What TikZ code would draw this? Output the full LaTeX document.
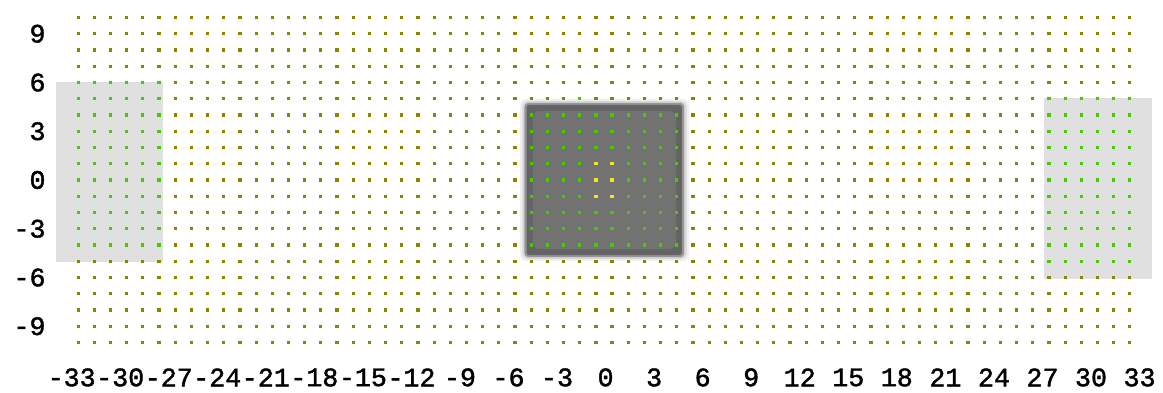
\documentclass[tikz,border=0pt]{standalone}
\usepackage{fontspec}
\newfontfamily\axisfont{Liberation Mono}[FakeBold=1.5]
\definecolor{dotolive}{RGB}{138,132,0}
\definecolor{dotgreen}{RGB}{64,206,0}
\definecolor{dotyellow}{RGB}{255,226,0}
\definecolor{lightpanel}{RGB}{224,224,224}
\definecolor{darkring}{RGB}{100,100,100}
\definecolor{darkcore}{RGB}{114,114,114}
\definecolor{halo}{RGB}{150,150,150}
\definecolor{halo2}{RGB}{215,215,215}
\definecolor{halo3}{RGB}{240,240,240}
\tikzset{
  axislabel/.style={font=\axisfont\fontsize{20pt}{22pt}\selectfont, inner sep=0pt},
  dot/.style={fill=#1},
}
\newcommand{\plotdot}[3]{\fill[#1] (#2,#3) +(-1.2pt,-1.2pt) rectangle +(1.2pt,1.2pt);}
\begin{document}
\begin{tikzpicture}[x=12.135pt,y=12.1875pt]
\useasboundingbox (-37.33,-13.108) rectangle (34.55,11.077);
% light panels
\fill[lightpanel] (-33.87,-5.05) rectangle (-27.26,6.03);
\fill[lightpanel] (27.2,-6.1) rectangle (33.9,5.05);
% central dark panel with soft border
\fill[halo3,rounded corners=5pt] (-5.2,-5.0) rectangle (5.25,5.0);
\fill[halo2,rounded corners=4pt] (-5.05,-4.87) rectangle (5.1,4.87);
\fill[halo,rounded corners=3pt] (-4.92,-4.75) rectangle (4.96,4.75);
\fill[darkring,rounded corners=2pt] (-4.78,-4.62) rectangle (4.82,4.62);
\fill[darkcore,rounded corners=5pt] (-4.4,-4.25) rectangle (4.45,4.25);
% olive dots everywhere
\foreach \i in {-32.5,-31.5,...,32.5}{
  \foreach \j in {-10,...,10}{
    \plotdot{dotolive}{\i}{\j}
  }
}
% green dots
\foreach \i in {-32.5,-31.5,...,-27.5}{
  \foreach \j in {-4,...,6}{
    \plotdot{dotgreen}{\i}{\j}
  }
}
\foreach \i in {27.5,28.5,...,32.5}{
  \foreach \j in {-5,...,5}{
    \plotdot{dotgreen}{\i}{\j}
  }
}
\foreach \i in {-4.5,-3.5,...,4.5}{
  \foreach \j in {-4,...,4}{
    \plotdot{dotgreen}{\i}{\j}
  }
}
\plotdot{dotgreen}{-1.5}{5}
% yellow dots
\foreach \i in {-0.5,0.5}{
  \foreach \j in {-1,0,1}{
    \plotdot{dotyellow}{\i}{\j}
  }
}
% y axis labels
\foreach \v in {9,6,3,0,-3,-6,-9}{
  \node[axislabel,anchor=east] (ylab\v) at (-34.5,\v) {\v};
}
% x axis labels
\foreach \v in {-33,-30,...,33}{
  \node[axislabel,anchor=center] (xlab\v) at (\v+0.1,-12.15) {\v};
}
\end{tikzpicture}
\end{document}
